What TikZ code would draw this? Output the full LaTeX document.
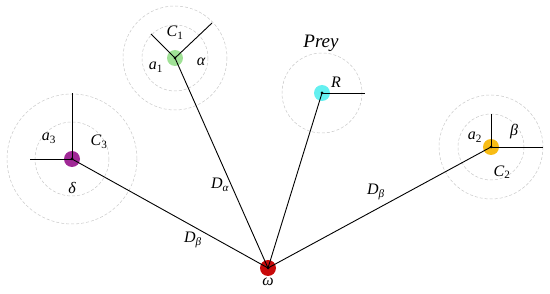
\documentclass[tikz,border=0pt]{standalone}
\usepackage{fontspec}
\setmainfont{Liberation Serif}
\newfontfamily\tms{Liberation Serif}
\newcommand{\sbs}[1]{\textsubscript{\upshape #1}}
\newcommand{\sbi}[1]{\textsubscript{\itshape #1}}
\begin{document}
\begin{tikzpicture}[x=1pt,y=-1pt,
  ring/.style={draw=black!22, densely dashed, line width=0.5pt},
  wolf/.style={circle, minimum size=16pt, inner sep=0pt},
  ctr/.style={circle, fill=black, minimum size=3pt, inner sep=0pt},
  edge/.style={line width=0.9pt, black},
  lab/.style={font=\tms\itshape\fontsize{16}{16}\selectfont, inner sep=0pt}
]
\useasboundingbox (0,0) rectangle (550,294);
% rings
\draw[ring] (175,58) circle (33);
\draw[ring] (175,58) circle (52);
\draw[ring] (72,159) circle (37);
\draw[ring] (72,159) circle (65);
\draw[ring] (322,93) circle (40);
\draw[ring] (491,147) circle (33);
\draw[ring] (491,147) circle (52);
% colored dots
\node[wolf, fill={rgb,255:red,160;green,225;blue,150}] (g1) at (175,58) {};
\node[wolf, fill={rgb,255:red,160;green,40;blue,150}] (g3) at (72,159) {};
\node[wolf, fill={rgb,255:red,100;green,240;blue,240}] (gp) at (322,93) {};
\node[wolf, fill={rgb,255:red,248;green,188;blue,20}] (g2) at (491,147) {};
\node[wolf, fill={rgb,255:red,200;green,10;blue,10}] (gw) at (268,268) {};
% centers
\node[ctr] (c1) at (175,58) {};
\node[ctr] (c3) at (72,159) {};
\node[ctr] (r) at (322,93) {};
\node[ctr] (c2) at (491,147) {};
\node[ctr] (w) at (268,268) {};
% free ends
\coordinate (c1a) at (151,34);
\coordinate (c1b) at (212,23);
\coordinate (c3a) at (72,93);
\coordinate (c3b) at (30,159);
\coordinate (ra) at (365,93);
\coordinate (c2a) at (491,114);
\coordinate (c2b) at (543,147);
% edges
\draw[edge] (c1.center) -- (c1a);
\draw[edge] (c1.center) -- (c1b);
\draw[edge] (c3.center) -- (c3a);
\draw[edge] (c3.center) -- (c3b);
\draw[edge] (r.center) -- (ra);
\draw[edge] (c2.center) -- (c2a);
\draw[edge] (c2.center) -- (c2b);
\draw[edge] (w.center) -- (c1.center);
\draw[edge] (w.center) -- (c3.center);
\draw[edge] (w.center) -- (r.center);
\draw[edge] (w.center) -- (c2.center);
% labels
\node[lab] (l1) at (175,33) {C\sbs{1}};
\node[lab] (l2) at (156,67) {a\sbs{1}};
\node[lab] (l3) at (201,62) {α};
\node[lab] (l4) at (49,138) {a\sbs{3}};
\node[lab] (l5) at (99,142) {C\sbs{3}};
\node[lab] (l6) at (72,188) {δ};
\node[lab] (l7) at (336,82) {R};
\node[lab] (l8) at (475,137) {a\sbs{2}};
\node[lab] (l9) at (514,132) {β};
\node[lab] (l10) at (502,172) {C\sbs{2}};
\node[lab] (l11) at (220,185) {D\sbi{α}};
\node[lab] (l12) at (193,240) {D\sbi{β}};
\node[lab] (l13) at (376,192) {D\sbi{β}};
\node[lab] (l14) at (268,282) {ω};
\node[lab, font=\tms\itshape\fontsize{19}{19}\selectfont] (prey) at (321,43) {Prey};
\end{tikzpicture}
\end{document}
